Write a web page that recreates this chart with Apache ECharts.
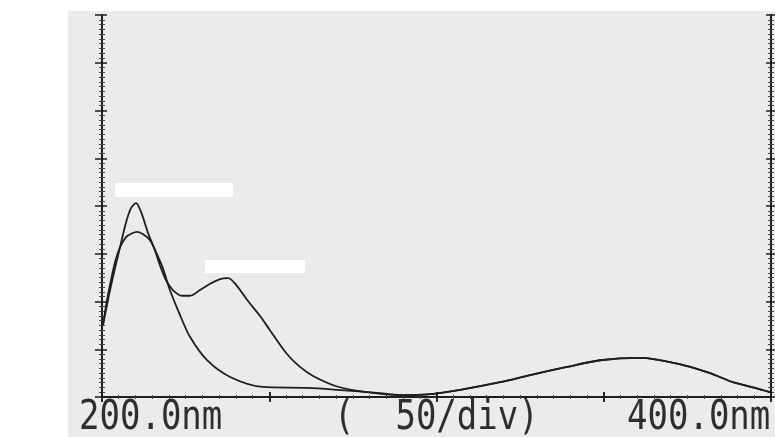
<!DOCTYPE html>
<html>
<head>
<meta charset="utf-8">
<script src="https://cdn.jsdelivr.net/npm/echarts@6/dist/echarts.min.js"></script>
<style>
html,body{margin:0;padding:0;background:#fff;}
#chart{width:775px;height:437px;}
</style>
</head>
<body>
<div id="chart"></div>
<script>
// Wavelength (nm), absorbance in divisions (0..8)
const curveA = [[200.3,1.51],[201.5,1.93],[202.4,2.24],[203.9,2.70],[205.4,3.14],[207.2,3.66],[208.7,3.96],[210.2,4.06],[211.7,3.87],[213.8,3.43],[215.8,3.08],[217.3,2.76],[219.1,2.45],[221.2,2.24],[223.9,2.12],[226.3,2.12],[229.3,2.24],[232.3,2.37],[235.3,2.47],[237.7,2.49],[240.1,2.35],[243.4,2.03],[247.2,1.70],[250.2,1.40],[255.3,0.90],[259.2,0.63],[263.1,0.44],[270.3,0.22],[279.2,0.10],[289.1,0.04]];
const curveB = [[200.3,1.51],[201.5,2.03],[202.7,2.45],[203.9,2.83],[205.4,3.14],[207.2,3.35],[209.0,3.43],[210.5,3.46],[212.3,3.41],[214.3,3.29],[216.1,3.04],[218.2,2.70],[220.3,2.24],[223.3,1.72],[226.3,1.26],[231.4,0.77],[238.3,0.42],[248.1,0.21],[261.3,0.19],[270.3,0.15],[283.1,0.08],[289.1,0.04]];
const tailShared = [[298.1,0.06],[307.1,0.15],[319.0,0.31],[328.0,0.46],[339.0,0.63],[348.9,0.77],[360.8,0.82],[373.7,0.67],[381.8,0.50],[388.6,0.31],[395.2,0.19],[399.7,0.10]];
const tickLabels = ['200.0nm','400.0nm'];
const scaleLabel = '(  50/div)';

const chart = echarts.init(document.getElementById('chart'), null, {renderer:'canvas'});
const ink = '#1e1e1e';
function xAx(pos, inside, len, showLine){
  return {type:'value', position:pos, min:200, max:400, interval:50,
    axisLine:{show:showLine, lineStyle:{color:ink, width:2}},
    axisTick:{show:true, inside:inside, length:len, lineStyle:{color:ink, width:1.5}},
    minorTick:{show:true, splitNumber:10, length:2, lineStyle:{color:'#444', width:1}},
    axisLabel:{show:false}, splitLine:{show:false}};
}
function yAx(pos, inside, len, showLine){
  return {type:'value', position:pos, min:0, max:8, interval:1,
    axisLine:{show:showLine, lineStyle:{color:ink, width:2}},
    axisTick:{show:true, inside:inside, length:len, lineStyle:{color:ink, width:1.5}},
    minorTick:{show:true, splitNumber:10, length:3, lineStyle:{color:'#444', width:1}},
    axisLabel:{show:false}, splitLine:{show:false}};
}
const lineStyle = {color:ink, width:1.8};
const txtFont = '34px "DejaVu Sans Mono"';
function label(text, x){
  return {type:'text', x:x, y:398, scaleY:1.2, originX:0, originY:0,
    style:{text:text, font:txtFont, fill:'#2e2e2e', textVerticalAlign:'top', verticalAlign:'top'}};
}
chart.setOption({
  animation:false,
  backgroundColor:'#ffffff',
  grid:{left:102, right:4, top:15, bottom:40},
  graphic:[
    {type:'rect', z:-10, shape:{x:68, y:11, width:707, height:426}, style:{fill:'#ebebeb'}},
    {type:'rect', z:5, shape:{x:115, y:183, width:118, height:14}, style:{fill:'#ffffff'}},
    {type:'rect', z:5, shape:{x:205, y:260, width:100, height:13}, style:{fill:'#ffffff'}},
    label(tickLabels[0], 79),
    label(tickLabels[1], 627),
    label(scaleLabel, 334)
  ],
  xAxis:[xAx('bottom', true, 5, true), xAx('bottom', false, 5, false), xAx('top', true, 5, true), xAx('top', false, 5, false)],
  yAxis:[yAx('left', true, 5, true), yAx('left', false, 7, false), yAx('right', true, 5, true), yAx('right', false, 4, false)],
  series:[
    {type:'line', xAxisIndex:0, yAxisIndex:0, data:curveA.concat(tailShared), showSymbol:false, smooth:0.3, lineStyle:lineStyle},
    {type:'line', xAxisIndex:0, yAxisIndex:0, data:curveB.concat(tailShared), showSymbol:false, smooth:0.3, lineStyle:lineStyle}
  ]
});
</script>
</body>
</html>
